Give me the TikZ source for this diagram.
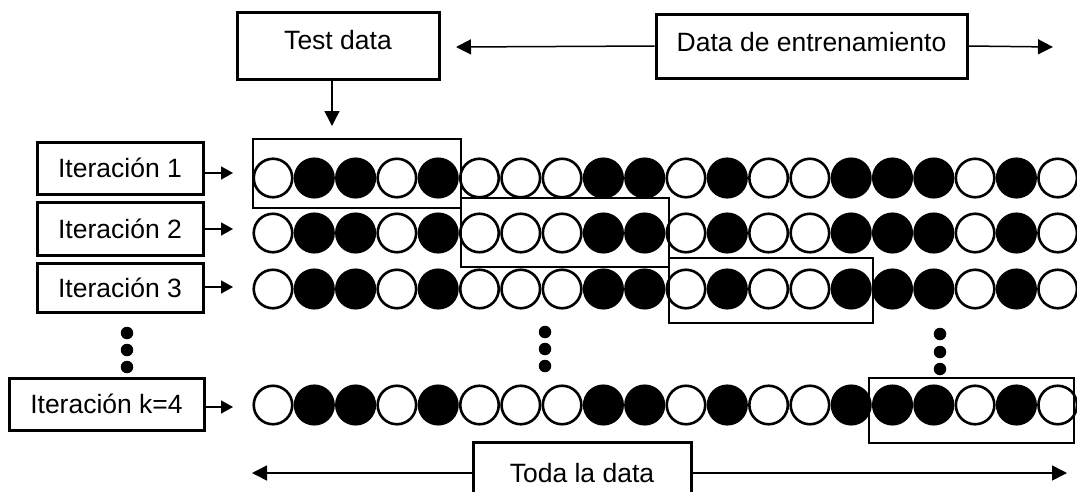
\documentclass[tikz,border=0pt]{standalone}
\usepackage{fontspec}
\setmainfont{Liberation Sans}
\usetikzlibrary{arrows.meta}
\begin{document}
\begin{tikzpicture}[x=1pt,y=-1pt,
  lbl/.style={draw,line width=3pt,font=\fontsize{26.5}{31}\selectfont,inner sep=0pt,anchor=center},
  wc/.style={circle,draw,line width=2.6pt,fill=white,minimum size=38.5pt,inner sep=0pt},
  bc/.style={wc,fill=black},
  sel/.style={draw,line width=2.8pt,inner sep=0pt},
  dotn/.style={circle,fill=black,minimum size=12.5pt,inner sep=0pt},
  bigarr/.style={line width=1.5pt,-{Triangle[length=15pt,width=15pt]}},
  smallarr/.style={line width=1.5pt,-{Triangle[length=12pt,width=13pt]}}]
\useasboundingbox (0,0) rectangle (1077,491);
\fill[white] (0,0) rectangle (1077,491);
% circles
\foreach \r/\y in {1/178,2/233,3/289,4/405} {
  \foreach \i/\s in {1/wc,2/bc,3/bc,4/wc,5/bc,6/wc,7/wc,8/wc,9/bc,10/bc,11/wc,12/bc,13/wc,14/wc,15/bc,16/bc,17/bc,18/wc,19/bc,20/wc} {
    \node[\s] (c\r-\i) at ({273+(\i-1)*41.3},\y) {};
  }
}
% selection rectangles
\node[sel,minimum width=208pt,minimum height=69pt] (s1) at (357,173.5) {};
\node[sel,minimum width=208pt,minimum height=69pt] (s2) at (565,232.5) {};
\node[sel,minimum width=204pt,minimum height=65pt] (s3) at (771,290.5) {};
\node[sel,minimum width=205pt,minimum height=65pt] (s4) at (971.5,410.5) {};
% label boxes
\node[lbl,minimum width=202pt,minimum height=67pt,text depth=12pt] (td) at (338,45.5) {Test data};
\node[lbl,minimum width=311pt,minimum height=64pt,text depth=8pt] (tr) at (811.5,46) {Data de entrenamiento};
\node[lbl,minimum width=166pt,minimum height=52pt] (it1) at (120,168) {Iteración 1};
\node[lbl,minimum width=166pt,minimum height=53pt] (it2) at (120,228.5) {Iteración 2};
\node[lbl,minimum width=166pt,minimum height=49pt] (it3) at (120,287.5) {Iteración 3};
\node[lbl,minimum width=195pt,minimum height=52pt] (it4) at (106.5,404) {Iteración k=4};
\node[lbl,minimum width=218pt,minimum height=62pt,fill=white] (toda) at (582,473) {Toda la data};
% arrow end points
\coordinate (tdend) at (332,126);
\coordinate (trL) at (456,47);
\coordinate (trR) at (1053,47);
\coordinate (todaL) at (252,473);
\coordinate (todaR) at (1067,473);
\coordinate (a1) at (233,173);
\coordinate (a2) at (233,229);
\coordinate (a3) at (233,287);
\coordinate (a4) at (233,407);
% arrows
\draw[bigarr] (td.south -| tdend) -- (tdend);
\draw[bigarr] (tr.west) -- (trL);
\draw[bigarr] (tr.east) -- (trR);
\draw[bigarr] (toda.west) -- (todaL);
\draw[bigarr] (toda.east) -- (todaR);
\draw[smallarr] (it1.east |- a1) -- (a1);
\draw[smallarr] (it2.east |- a2) -- (a2);
\draw[smallarr] (it3.east |- a3) -- (a3);
\draw[smallarr] (it4.east |- a4) -- (a4);
% dots
\foreach \x/\ya/\yb/\yc/\n in {127/333/350/367/L,545/332/349/366/M,940/334/352/369/R} {
  \node[dotn] (d\n1) at (\x,\ya) {};
  \node[dotn] (d\n2) at (\x,\yb) {};
  \node[dotn] (d\n3) at (\x,\yc) {};
}
\end{tikzpicture}
\end{document}
